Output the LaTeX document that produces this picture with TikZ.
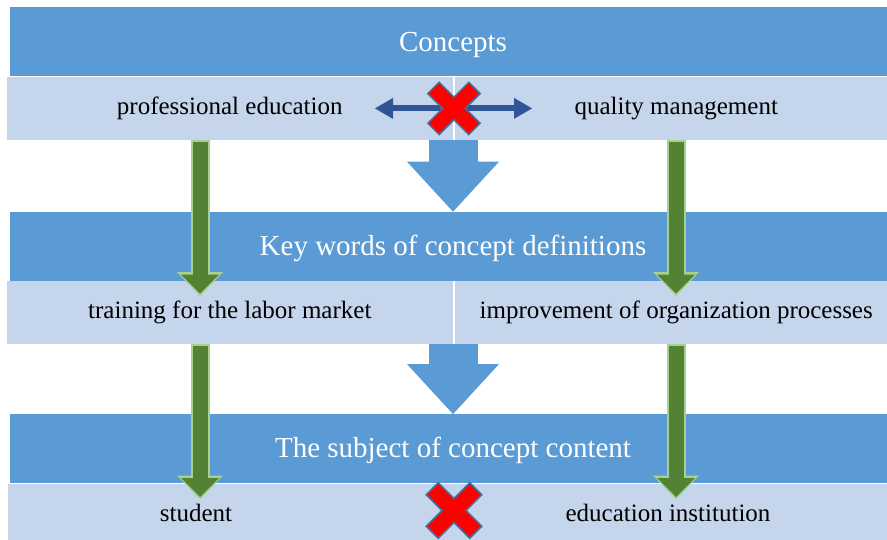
\documentclass[tikz,border=0pt]{standalone}
\usepackage{fontspec}
\setmainfont{Liberation Serif}
\usepackage{xcolor}
\usepackage{tikz}
\usetikzlibrary{
    positioning,
    calc,
    arrows.meta
}
\definecolor{bandblue}{RGB}{91,155,213}
\definecolor{cellblue}{RGB}{197,213,235}
\definecolor{leafgreen}{RGB}{84,130,53}
\definecolor{rimgreen}{RGB}{169,209,142}
\definecolor{linkblue}{RGB}{47,85,151}
\definecolor{rimsteel}{RGB}{65,113,156}
\tikzset{
  band/.style = {
      rectangle,
      fill=bandblue,
      text=white,
      minimum width=887pt,
      minimum height=69pt,
      inner sep=0pt,
      text height=24.5pt,
      text depth=6.3pt,
      font=\fontsize{29}{31}\selectfont
  },
  cell/.style = {
      rectangle,
      fill=cellblue,
      minimum width=446pt,
      minimum height=63pt,
      inner sep=0pt,
      text height=17pt,
      text depth=5.5pt,
      font=\fontsize{25}{27}\selectfont
  },
  plain/.style = {
      cell,
      fill=none,
      minimum width=0pt,
      minimum height=0pt
  },
  flow/.style = {
      draw=bandblue,
      line width=49pt,
      -{Triangle[length=50pt,width=92pt,line width=0pt]}
  },
  stem/.style = {
      preaction={draw=rimgreen, line width=19pt, shorten <=0pt, shorten >=0pt,
        -{Triangle[length=24pt,width=46pt,line width=0pt]}},
      draw=leafgreen,
      line width=15pt,
      shorten <=2pt,
      shorten >=2.5pt,
      -{Triangle[length=19pt,width=38pt,line width=0pt]}
  },
  link/.style = {
      draw=linkblue,
      line width=6pt,
      {Triangle[length=18pt,width=21pt,line width=0pt]}-{Triangle[length=18pt,width=21pt,line width=0pt]}
  },
  nogo/.style = {
      fill=red,
      draw=rimsteel,
      line width=1.5pt,
      line join=miter
  }
}
\begin{document}
\begin{tikzpicture}[x=1pt, y=-1pt]
    \useasboundingbox (0,0) rectangle (887,540);
    % Nodes
    \node[band] (concepts) at (453,42) {Concepts};
    \node[cell, below left=0pt and 0pt of concepts.south] (pe) {professional education};
    \node[cell, below right=0pt and 2pt of concepts.south, minimum width=442pt] (qm) {quality management};
    \node[band, below=135pt of concepts] (keys) {Key words of concept definitions};
    \node[cell, below left=0pt and 0pt of keys.south] (tlm) {training for the labor market};
    \node[cell, below right=0pt and 2pt of keys.south, minimum width=442pt] (iop) {improvement of organization processes};
    \node[band, below=133pt of keys] (subject) {The subject of concept content};
    \node[cell, below=0pt of subject, minimum width=890pt] (base) {};
    \node[plain] (st) at (196,516) {student};
    \node[plain] (ei) at (668,516) {education institution};
    \coordinate (gl) at (200,0);
    \coordinate (gr) at (676,0);
    \coordinate (x1) at ($(pe.east)!.5!(qm.west)$);
    \coordinate (x2) at ($(x1 |- base.north)+(0,27)$);
    % Edges
    \draw[flow] (keys.north |- pe.south) -- (keys.north);
    \draw[flow] (subject.north |- tlm.south) -- (subject.north);
    \draw[stem] (gl |- pe.south) -- ($(gl |- tlm.north)+(0,15)$);
    \draw[stem] (gr |- qm.south) -- ($(gr |- iop.north)+(0,15)$);
    \draw[stem] (gl |- tlm.south) -- ($(gl |- base.north)+(0,16)$);
    \draw[stem] (gr |- iop.south) -- ($(gr |- base.north)+(0,16)$);
    \draw[link] ([xshift=-78pt]pe.east) -- ([xshift=77pt]qm.west);
    % Crosses
    \draw[nogo, shift={(x1)}, rotate=45]
    (8,8) -- (29,8) -- (29,-8) -- (8,-8) -- (8,-29) -- (-8,-29) -- (-8,-8)
    -- (-29,-8) -- (-29,8) -- (-8,8) -- (-8,29) -- (8,29) -- cycle;
    \draw[nogo, shift={(x2)}, rotate=45, scale=1.06]
    (8,8) -- (29,8) -- (29,-8) -- (8,-8) -- (8,-29) -- (-8,-29) -- (-8,-8)
    -- (-29,-8) -- (-29,8) -- (-8,8) -- (-8,29) -- (8,29) -- cycle;
\end{tikzpicture}
\end{document}
